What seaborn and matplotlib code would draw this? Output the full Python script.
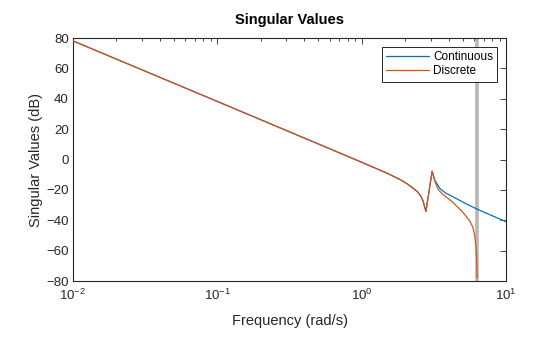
import numpy as np
import pandas as pd
import matplotlib
matplotlib.use("Agg")
import matplotlib.pyplot as plt
import seaborn as sns
from matplotlib.ticker import LogLocator, FixedLocator

# ---- data ----
freq_cont = [0.01, 0.1, 0.5, 1.0, 1.5, 1.87, 2.07, 2.3, 2.44, 2.57, 2.66, 2.73, 2.78,
             3.07, 3.2, 3.47, 3.8, 4.28, 5.2, 6.28, 8.0, 10.0]
db_cont = [78.2, 38.3, 10.3, -1.8, -9.0, -13.5, -16.1, -19.3, -21.4, -24.2, -27.5, -31.5, -34.2,
           -7.7, -13.5, -19.0, -22.0, -24.5, -28.8, -32.6, -37.0, -41.0]

freq_disc = [0.01, 0.1, 0.5, 1.0, 1.5, 1.87, 2.07, 2.3, 2.44, 2.57, 2.66, 2.73, 2.78,
             3.07, 3.2, 3.37, 3.6, 4.28, 5.02, 5.58, 5.89, 6.05, 6.17,
             6.23, 6.26, 6.28]
db_disc = [78.2, 38.3, 10.3, -1.8, -9.0, -13.5, -16.1, -19.3, -21.4, -24.2, -27.5, -31.5, -34.2,
           -7.7, -14.0, -19.5, -22.5, -28.2, -34.8, -40.3, -44.8, -50.0, -57.0,
           -64.0, -71.0, -78.0]

nyquist = 6.2832
series_names = ["Continuous", "Discrete"]
y_ticks = [80, 60, 40, 20, 0, -20, -40, -60, -80]

df = pd.concat([
    pd.DataFrame({"Frequency": freq_cont, "SV": db_cont, "System": series_names[0]}),
    pd.DataFrame({"Frequency": freq_disc, "SV": db_disc, "System": series_names[1]}),
], ignore_index=True)

sns.set_theme(style="white")
plt.rcParams["font.family"] = ["Liberation Sans", "DejaVu Sans"]
plt.rcParams["mathtext.fontset"] = "custom"
plt.rcParams["mathtext.rm"] = "Liberation Sans"
plt.rcParams["mathtext.it"] = "Liberation Sans"
plt.rcParams["mathtext.bf"] = "Liberation Sans:bold"

fig = plt.figure(figsize=(5.6, 3.37), dpi=100)
ax = fig.add_axes([0.130, 0.166, 0.774, 0.721])

ax.axvline(nyquist, color="#b8b8b8", lw=2.6, zorder=1)

sns.lineplot(data=df, x="Frequency", y="SV", hue="System", sort=False,
             estimator=None, palette=["#0072BD", "#D95319"], lw=0.9, ax=ax,
             zorder=3)

ax.set_xscale("log")
ax.set_xlim(0.01, 10)
ax.set_ylim(-80, 80)
ax.yaxis.set_major_locator(FixedLocator(y_ticks))
ax.xaxis.set_major_locator(LogLocator(base=10, numticks=10))
ax.xaxis.set_minor_locator(LogLocator(base=10, subs=np.arange(2, 10), numticks=20))

tc = "#262626"
for s in ax.spines.values():
    s.set_color(tc)
    s.set_linewidth(0.8)
ax.tick_params(axis="both", which="both", direction="in", top=True, right=True,
               colors=tc, labelsize=9.5, width=0.6)
ax.tick_params(axis="both", which="major", length=4, pad=3)
ax.tick_params(axis="x", which="minor", length=2.2)
ax.tick_params(axis="x", which="major", pad=5)

ax.set_xlabel("Frequency (rad/s)", fontsize=10.5, color=tc, labelpad=8)
ax.set_ylabel("Singular Values (dB)", fontsize=10.5, color=tc, labelpad=2)
ax.set_title("Singular Values", fontsize=10.5, fontweight="bold", color="#000000", pad=10)

leg = ax.legend(loc="upper right", fontsize=8.5, frameon=True, fancybox=False,
                edgecolor="#262626", framealpha=1, borderpad=0.35,
                handlelength=3.6, handletextpad=0.4, labelspacing=0.2,
                borderaxespad=0.75, title=None)
leg.get_frame().set_linewidth(0.7)
for t in leg.get_texts():
    t.set_color("#000000")

fig.savefig("out.png", dpi=100)
